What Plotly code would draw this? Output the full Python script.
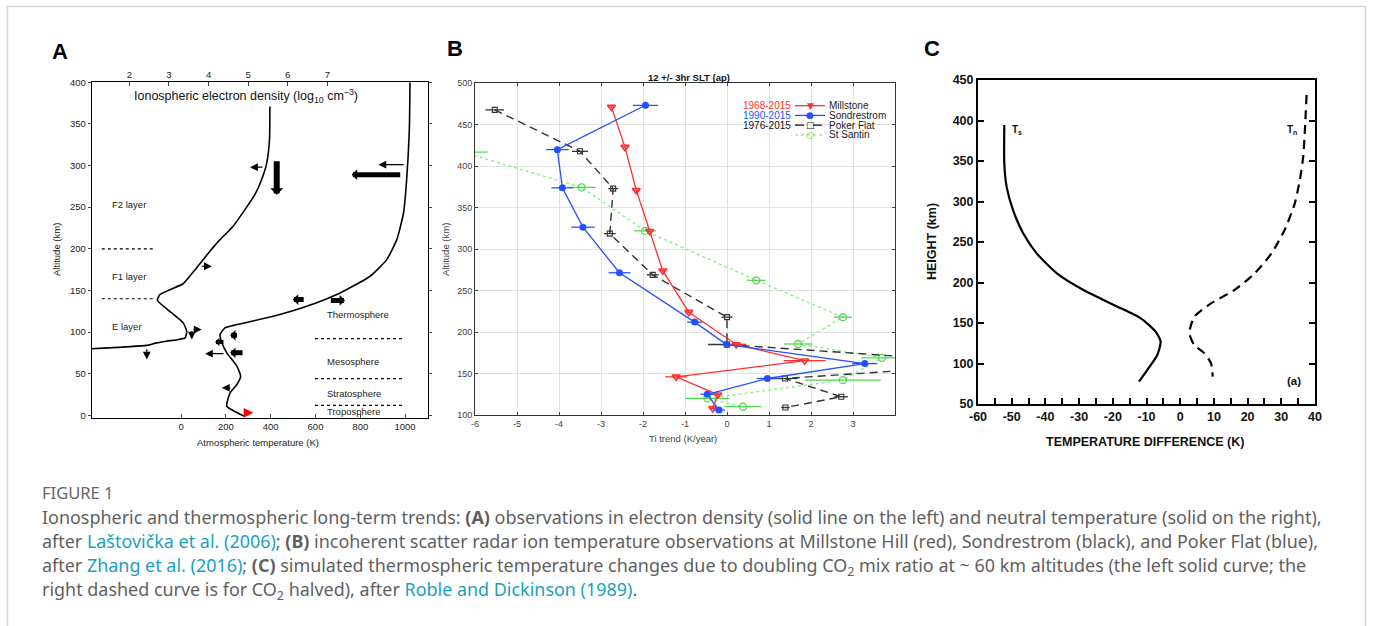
import plotly.graph_objects as go

W, H = 1373, 626
def px(x): return x / W
def py(y): return 1 - y / H

# ---------------- Panel A data ----------------
dens_alt = [371, 331, 303, 283, 265, 247, 227, 221, 211, 195, 177, 165, 158, 145, 138, 123, 111, 101, 93, 91, 89, 87, 84, 80]
dens_log = [5.55, 5.54, 5.47, 5.34, 5.17, 4.92, 4.62, 4.50, 4.29, 4.00, 3.70, 3.49, 3.36, 2.77, 2.71, 3.07, 3.36, 3.45, 3.41, 3.24, 2.94, 2.69, 2.44, 1.05]
temp_alt = [400, 343, 283, 243, 211, 187, 167, 147, 131, 119, 108, 105, 97, 87, 75, 59, 47, 37, 27, 11, -1]
temp_K = [1022, 1019, 1007, 993, 963, 918, 844, 710, 561, 412, 234, 196, 174, 182, 204, 249, 266, 249, 219, 204, 281]
temp_ticks = [0, 200, 400, 600, 800, 1000]
dens_ticks = [2, 3, 4, 5, 6, 7]
alt_ticks_A = [0, 50, 100, 150, 200, 250, 300, 350, 400]
# arrows: (T tail, T head, alt tail, alt head, width, colour)
arrows_A = [
    (370, 308, 298, 298, 1.2, "black"),
    (427, 427, 307, 265, 6, "black"),
    (1000, 881, 301, 301, 1.2, "black"),
    (985, 762, 289, 289, 5, "black"),
    (85, 137, 179, 179, 1.2, "black"),
    (554, 499, 139, 139, 5, "black"),
    (662, 732, 138, 138, 5, "black"),
    (48, 92, 103, 103, 1.2, "black"),
    (48, 48, 103, 91, 1.2, "black"),
    (256, 219, 96, 96, 5, "black"),
    (196, 152, 88, 88, 4, "black"),
    (196, 107, 74, 74, 1.2, "black"),
    (281, 219, 75, 75, 5, "black"),
    (226, 182, 33, 33, 1.2, "black"),
    (278, 323, 3, 3, 1.5, "red"),
    (-153, -153, 81, 67, 1.2, "black"),
]
layer_lines_left = [200, 140]
layer_lines_right = [92, 44, 12]
layer_labels_left = [("F2 layer", 253), ("F1 layer", 167), ("E layer", 107)]
layer_labels_right = [("Thermosphere", 121), ("Mesosphere", 65), ("Stratosphere", 26), ("Troposphere", 4)]

# ---------------- Panel B data ----------------
mill_x = [-2.75, -2.43, -2.16, -1.84, -1.53, -0.91, 0.22, 1.85, -1.21, -0.22, -0.34]
mill_y = [471.5, 423, 371, 321.5, 274, 224, 185, 165.5, 146, 124.5, 108]
mill_e = [0.08, 0.08, 0.08, 0.08, 0.08, 0.08, 0.22, 0.5, 0.26, 0.1, 0.08]
sond_x = [-1.94, -4.04, -3.92, -3.43, -2.56, -0.77, -0.01, 3.28, 0.96, -0.47, -0.19]
sond_y = [473.5, 420, 374, 326.5, 271.5, 212, 185, 162, 144, 125, 106]
sond_e = [0.3, 0.27, 0.26, 0.28, 0.26, 0.18, 0.05, 0.3, 0.25, 0.16, 0.14]
poke_x = [-5.53, -3.50, -2.71, -2.79, -1.77, 0.0, 0.0, 6.6, 1.38, 2.72, 1.39]
poke_y = [468, 418, 373, 318.7, 269, 218, 185, 162, 144, 122, 109]
poke_e = [0.22, 0.19, 0.12, 0.14, 0.14, 0.13, 0.45, 0.0, 0.3, 0.16, 0.1]
sant_x = [-6.3, -3.46, -1.95, 0.70, 2.76, 1.69, 3.69, 2.76, -0.47, 0.38]
sant_y = [417, 374.5, 322, 262.4, 218, 185.6, 169, 142, 120, 110]
sant_e = [0.6, 0.33, 0.26, 0.22, 0.22, 0.34, 0.5, 0.9, 0.52, 0.44]
b_xticks = [-6, -5, -4, -3, -2, -1, 0, 1, 2, 3]
b_xticktext = ["-6", "-5", "-4", "-3", "-2", "-1", "0", "1", "2", "3"]
b_yticks = [100, 150, 200, 250, 300, 350, 400, 450, 500]
legend_years = ["1968-2015", "1990-2015", "1976-2015", ""]
legend_names = ["Millstone", "Sondrestrom", "Poker Flat", "St Santin"]

# ---------------- Panel C data ----------------
ts_x = [-52.2, -52.2, -51.5, -49.6, -46.6, -42.6, -36.6, -28.7, -19.7, -11.7, -7.3, -5.8, -6.8, -9.75, -12.2]
ts_y = [394.4, 347, 318, 289.5, 260.7, 236, 211.3, 190.7, 172.2, 155.8, 139.3, 127, 110.5, 92, 77.6]
tn_x = [37.5, 37.0, 36.5, 35.5, 34.0, 31.0, 27.1, 22.1, 16.1, 9.15, 4.2, 2.7, 4.2, 7.2, 9.15, 9.65]
tn_y = [431.5, 388, 355.3, 326.5, 297.7, 265, 236, 211.3, 190.7, 174.3, 157.8, 137.2, 122.8, 112.6, 100.2, 83.7]
c_xticks = [-60, -50, -40, -30, -20, -10, 0, 10, 20, 30, 40]
c_xticktext = ["-60", "-50", "-40", "-30", "-20", "-10", "0", "10", "20", "30", "40"]
c_yticks = [50, 100, 150, 200, 250, 300, 350, 400, 450]

RED, BLUE, BLK, GRN = "#ff3030", "#2450ff", "#333333", "#4cd94c"
LINK = "#1a9fbf"
CAP = "#5f5f5f"

fig = go.Figure()

# Panel A traces
fig.add_trace(go.Scatter(x=dens_log, y=dens_alt, xaxis="x2", yaxis="y", mode="lines",
                         line=dict(color="black", width=1.6, shape="spline", smoothing=0.5), showlegend=False))
fig.add_trace(go.Scatter(x=temp_K, y=temp_alt, xaxis="x", yaxis="y", mode="lines",
                         line=dict(color="black", width=1.6, shape="spline", smoothing=0.5), showlegend=False))

# Panel B traces
fig.add_trace(go.Scatter(x=sant_x, y=sant_y, xaxis="x3", yaxis="y3", mode="lines+markers",
                         line=dict(color="#7ef07e", width=1.3, dash="dot"),
                         marker=dict(symbol="circle-open", color=GRN, size=7, line=dict(width=1.3)),
                         error_x=dict(type="data", array=sant_e, color=GRN, thickness=1.3, width=0),
                         showlegend=False, cliponaxis=True))
fig.add_trace(go.Scatter(x=poke_x, y=poke_y, xaxis="x3", yaxis="y3", mode="lines+markers",
                         line=dict(color=BLK, width=1.4, dash="8px,5px"),
                         marker=dict(symbol="square-open", color=BLK, size=5, line=dict(width=1.1)),
                         error_x=dict(type="data", array=poke_e, color=BLK, thickness=1.3, width=0),
                         showlegend=False, cliponaxis=True))
fig.add_trace(go.Scatter(x=mill_x, y=mill_y, xaxis="x3", yaxis="y3", mode="lines+markers",
                         line=dict(color=RED, width=1.3),
                         marker=dict(symbol="triangle-down-open", color=RED, size=7, line=dict(width=1.6)),
                         error_x=dict(type="data", array=mill_e, color=RED, thickness=1.3, width=0),
                         showlegend=False, cliponaxis=True))
fig.add_trace(go.Scatter(x=sond_x, y=sond_y, xaxis="x3", yaxis="y3", mode="lines+markers",
                         line=dict(color=BLUE, width=1.3),
                         marker=dict(symbol="circle", color=BLUE, size=7),
                         error_x=dict(type="data", array=sond_e, color=BLUE, thickness=1.3, width=0),
                         showlegend=False, cliponaxis=True))

# Panel C traces
fig.add_trace(go.Scatter(x=ts_x, y=ts_y, xaxis="x4", yaxis="y4", mode="lines",
                         line=dict(color="black", width=2.2, shape="spline", smoothing=0.6), showlegend=False))
fig.add_trace(go.Scatter(x=tn_x, y=tn_y, xaxis="x4", yaxis="y4", mode="lines",
                         line=dict(color="black", width=2.2, dash="9px,6px", shape="spline", smoothing=0.6),
                         showlegend=False))

tickA = dict(family="Liberation Sans, Arial", size=9.5, color="#222")
tickB = dict(family="Liberation Sans, Arial", size=9, color="#444")
tickC = dict(family="Liberation Sans, Arial", size=12.5, color="#111", weight="bold")

common = dict(automargin=False, showgrid=False, zeroline=False)
fig.update_layout(
    width=W, height=H, margin=dict(l=0, r=0, t=0, b=0, autoexpand=False),
    paper_bgcolor="white", plot_bgcolor="white", showlegend=False,
    xaxis=dict(domain=[px(91.7), px(427.7)], range=[-399, 1101], anchor="y",
               tickvals=temp_ticks, ticks="inside", ticklen=4, showline=True, linecolor="black",
               linewidth=1, tickfont=tickA, **common),
    xaxis2=dict(overlaying="x", side="top", anchor="y", range=[1.05, 9.535], tickvals=dens_ticks,
                ticks="inside", ticklen=4, showline=True, linecolor="black", linewidth=1,
                tickfont=tickA, **common),
    yaxis=dict(domain=[py(417.7), py(82.3)], range=[-2.9, 400], anchor="x", tickvals=alt_ticks_A,
               ticks="outside", ticklen=3, showline=True, linecolor="black", linewidth=1, mirror="ticks",
               tickfont=tickA, **common),
    xaxis3=dict(domain=[px(475), px(895)], range=[-6, 4], anchor="y3", tickvals=b_xticks,
                ticktext=b_xticktext, ticks="inside", ticklen=3, showline=True, linecolor="#333",
                linewidth=1, mirror="ticks", gridcolor="#e2e2e2", tickfont=tickB,
                automargin=False, showgrid=True, zeroline=False),
    yaxis3=dict(domain=[py(415), py(83.3)], range=[100, 500], anchor="x3", tickvals=b_yticks,
                ticks="inside", ticklen=3, showline=True, linecolor="#333", linewidth=1, mirror="ticks",
                gridcolor="#e2e2e2", tickfont=tickB, automargin=False, showgrid=True, zeroline=False),
    xaxis4=dict(domain=[px(978), px(1315)], range=[-60, 40], anchor="y4", tickvals=c_xticks,
                ticktext=c_xticktext, ticks="inside", ticklen=6, tickwidth=2, tickcolor="black",
                showline=True, linecolor="black", linewidth=2, mirror=True, tickfont=tickC,
                minor=dict(ticks="inside", dtick=5, ticklen=6, tickwidth=2, tickcolor="black"), **common),
    yaxis4=dict(domain=[py(404), py(80)], range=[50, 450], anchor="x4", tickvals=c_yticks,
                ticks="inside", ticklen=6, tickwidth=2, tickcolor="black", showline=True, linecolor="black",
                linewidth=2, mirror="ticks", tickfont=tickC, **common),
)

ann = []
shapes = []
def note(text, x, y, xanchor="center", yanchor="middle", **kw):
    d = dict(text=text, x=x, y=y, xanchor=xanchor, yanchor=yanchor, showarrow=False)
    d.setdefault("xref", "paper"); d.setdefault("yref", "paper")
    d.update(kw)
    ann.append(d)

# border
shapes.append(dict(type="rect", xref="paper", yref="paper", x0=px(7.5), x1=px(1365.5), y0=py(640), y1=py(6.5),
                   line=dict(color="#d6d6d6", width=1.5), layer="below"))

# panel letters
for letter, x, y in [("A", 60, 52), ("B", 455, 49), ("C", 932, 48)]:
    note("<b>%s</b>" % letter, px(x), py(y), font=dict(family="Liberation Sans, Arial", size=22, color="black"))

# Panel A decorations
for a in layer_lines_left:
    shapes.append(dict(type="line", xref="x", yref="y", x0=-354, x1=-116, y0=a, y1=a,
                       line=dict(color="black", width=1.2, dash="dot")))
for a in layer_lines_right:
    shapes.append(dict(type="line", xref="x", yref="y", x0=598, x1=1000, y0=a, y1=a,
                       line=dict(color="black", width=1.2, dash="dot")))
fA = dict(family="Liberation Sans, Arial", size=9.5, color="#222")
for t, a in layer_labels_left:
    note(t, -317, a, xanchor="left", xref="x", yref="y", font=fA)
for t, a in layer_labels_right:
    note(t, 642, a, xanchor="left", xref="x", yref="y", font=fA)
note("Ionospheric electron density (log<sub>10</sub> cm<sup>\u22123</sup>)", 290, 383, xref="x", yref="y",
     font=dict(family="Liberation Sans, Arial", size=12.5, color="#111"))
for (t0, t1, a0, a1, w, c) in arrows_A:
    thin = w < 2
    ann.append(dict(text="", x=t1, y=a1, ax=t0, ay=a0, xref="x", yref="y", axref="x", ayref="y",
                    showarrow=True, arrowhead=2 if thin else 1, arrowsize=1.3 if thin else 0.36,
                    arrowwidth=w, arrowcolor=c))
note("Altitude (km)", px(57), py(250), textangle=-90, font=fA)
note("Atmospheric temperature (K)", px(258), py(442), font=fA)

# Panel B decorations
fB = dict(family="Liberation Sans, Arial", size=9.5, color="#444")
note("<b>12 +/- 3hr SLT (ap)</b>", px(689), py(77.5), font=dict(family="Liberation Sans, Arial", size=9.5, color="#111"))
note("Altitude (km)", px(446), py(250), textangle=-90, font=fB)
note("Ti trend (K/year)", px(683), py(438), font=fB)
leg_rows = [105.7, 115.4, 125.2, 134.8]
leg_cols = [RED, BLUE, "#111", GRN]
leg_glyph = ["\u25bc", "\u25cf", "\u25a1", "\u25cb"]
leg_dash = ["solid", "solid", "dash", "dot"]
for i in range(4):
    yy = leg_rows[i]
    if legend_years[i]:
        note(legend_years[i], px(793), py(yy), xanchor="right",
             font=dict(family="Liberation Sans, Arial", size=10, color=leg_cols[i]))
    shapes.append(dict(type="line", xref="paper", yref="paper", x0=px(795), x1=px(825), y0=py(yy), y1=py(yy),
                       line=dict(color=leg_cols[i] if i != 3 else "#7ef07e", width=1.3, dash=leg_dash[i])))
    note(leg_glyph[i], px(810), py(yy), font=dict(family="DejaVu Sans", size=9, color=leg_cols[i]))
    note(legend_names[i], px(827), py(yy), xanchor="left",
         font=dict(family="Liberation Sans, Arial", size=10, color="#222"))

# Panel C decorations
fC = dict(family="Liberation Sans, Arial", size=12.5, color="#111")
note("<b>HEIGHT (km)</b>", px(932), py(242), textangle=-90, font=fC)
note("<b>TEMPERATURE DIFFERENCE (K)</b>", px(1145), py(442), font=fC)
note("<b>T<sub>s</sub></b>", -50.5, 388, xanchor="left", xref="x4", yref="y4",
     font=dict(family="Liberation Sans, Arial", size=10, color="#111"))
note("<b>T<sub>n</sub></b>", 31.2, 388, xanchor="left", xref="x4", yref="y4",
     font=dict(family="Liberation Sans, Arial", size=10, color="#111"))
note("<b>(a)</b>", 31, 78, xanchor="left", xref="x4", yref="y4",
     font=dict(family="Liberation Sans, Arial", size=11.5, color="#111"))

# Caption
def link(t):
    return "<span style='color:%s'>%s</span>" % (LINK, t)
cap_lines = [
    "Ionospheric and thermospheric long-term trends: <b>(A)</b> observations in electron density (solid line on the left) and neutral temperature (solid on the right),",
    "after " + link("La\u0161tovi\u010dka et al. (2006)") + "; <b>(B)</b> incoherent scatter radar ion temperature observations at Millstone Hill (red), Sondrestrom (black), and Poker Flat (blue),",
    "after " + link("Zhang et al. (2016)") + "; <b>(C)</b> simulated thermospheric temperature changes due to doubling CO<sub>2</sub> mix ratio at ~ 60 km altitudes (the left solid curve; the",
    "right dashed curve is for CO<sub>2</sub> halved), after " + link("Roble and Dickinson (1989)") + ".",
]
cap_y = [517, 541, 566, 590]
note("FIGURE 1", px(40), py(492), xanchor="left", font=dict(family="Noto Sans", size=16.5, color="#666"))
for t, y in zip(cap_lines, cap_y):
    note(t, px(40), py(y), xanchor="left", font=dict(family="Noto Sans", size=17.95, color=CAP))

fig.update_layout(annotations=ann, shapes=shapes)
fig.write_html("out.html", config={"displayModeBar": False},
               post_script="document.body.style.margin='0';document.body.style.overflow='hidden';")
